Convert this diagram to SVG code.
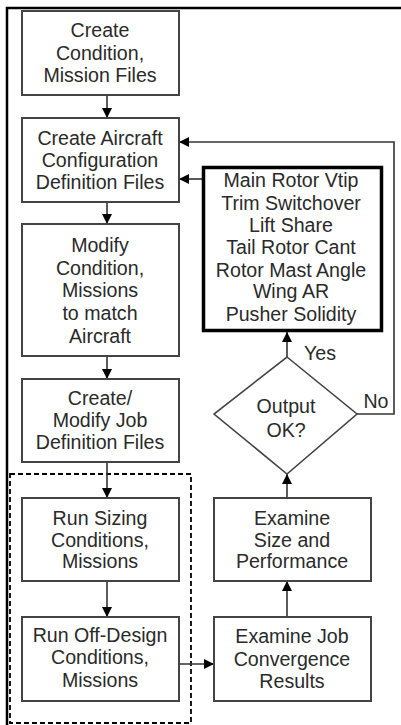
<svg xmlns="http://www.w3.org/2000/svg" width="401" height="725" viewBox="0 0 401 725">
<style>
text{font-family:"Liberation Sans",Arial,sans-serif;font-size:19.6px;fill:#2a2a2a;text-anchor:middle}
.box{fill:#fff;stroke:#444;stroke-width:2}
.ln{fill:none;stroke:#333;stroke-width:1.6}
</style>
<defs>
<marker id="ah" viewBox="0 0 10 10" refX="10" refY="5" markerWidth="10" markerHeight="10" markerUnits="userSpaceOnUse" orient="auto">
<path d="M0,0 L10,5 L0,10 z" fill="#000"/>
</marker>
</defs>
<rect x="0" y="0" width="401" height="725" fill="#fff"/>
<rect x="7" y="8" width="500" height="800" fill="none" stroke="#000" stroke-width="2.5"/>
<rect x="10" y="474" width="181" height="249" fill="none" stroke="#000" stroke-width="1.8" stroke-dasharray="5,3"/>
<g id="connectors">
<line class="ln" x1="107" y1="95" x2="107" y2="118" marker-end="url(#ah)"/>
<line class="ln" x1="107" y1="202" x2="107" y2="224" marker-end="url(#ah)"/>
<line class="ln" x1="107" y1="356" x2="107" y2="379" marker-end="url(#ah)"/>
<line class="ln" x1="107" y1="462" x2="107" y2="498" marker-end="url(#ah)"/>
<line class="ln" x1="107" y1="581" x2="107" y2="617" marker-end="url(#ah)"/>
<line class="ln" x1="179" y1="664" x2="214" y2="664" marker-end="url(#ah)"/>
<line class="ln" x1="287" y1="617" x2="287" y2="581" marker-end="url(#ah)"/>
<line class="ln" x1="287" y1="498" x2="287" y2="474" marker-end="url(#ah)"/>
<line class="ln" x1="287" y1="357" x2="287" y2="332" marker-end="url(#ah)"/>
<polyline class="ln" points="357,414 394,414 394,142 179,142" marker-end="url(#ah)"/>
<line class="ln" x1="202" y1="179" x2="179" y2="179" marker-end="url(#ah)"/>
</g>
<g id="n1"><rect class="box" x="22" y="11" width="157" height="84"/>
<text x="100" y="37">Create</text><text x="100" y="60">Condition,</text><text x="100" y="82">Mission Files</text></g>
<g id="n2"><rect class="box" x="22" y="118" width="157" height="84"/>
<text x="100" y="145">Create Aircraft</text><text x="100" y="167">Configuration</text><text x="100" y="189">Definition Files</text></g>
<g id="n3"><rect class="box" x="22" y="224" width="157" height="132"/>
<text x="100" y="252">Modify</text><text x="100" y="275">Condition,</text><text x="100" y="297">Missions</text><text x="100" y="320">to match</text><text x="100" y="343">Aircraft</text></g>
<g id="n4"><rect class="box" x="22" y="379" width="157" height="83"/>
<text x="100" y="405">Create/</text><text x="100" y="427">Modify Job</text><text x="100" y="449">Definition Files</text></g>
<g id="n5"><rect class="box" x="22" y="498" width="157" height="83"/>
<text x="100" y="525">Run Sizing</text><text x="100" y="547">Conditions,</text><text x="100" y="568">Missions</text></g>
<g id="n6"><rect class="box" x="22" y="617" width="157" height="84"/>
<text x="100" y="642">Run Off-Design</text><text x="100" y="664">Conditions,</text><text x="100" y="687">Missions</text></g>
<g id="n7"><rect class="box" x="214" y="617" width="157" height="84"/>
<text x="292" y="643">Examine Job</text><text x="292" y="666">Convergence</text><text x="292" y="688">Results</text></g>
<g id="n8"><rect class="box" x="214" y="498" width="157" height="83"/>
<text x="292" y="525">Examine</text><text x="292" y="547">Size and</text><text x="292" y="568">Performance</text></g>
<g id="n9"><polygon points="287,357 357,414 287,474 214,414" fill="#fff" stroke="#444" stroke-width="1.6"/>
<text x="286" y="413">Output</text><text x="286" y="437">OK?</text>
<text x="320" y="360">Yes</text><text x="376" y="408">No</text></g>
<g id="n10"><rect x="203.5" y="167.5" width="178" height="163" fill="#fff" stroke="#000" stroke-width="3.5"/>
<text x="291" y="187">Main Rotor Vtip</text><text x="291" y="210">Trim Switchover</text><text x="291" y="232">Lift Share</text><text x="291" y="254">Tail Rotor Cant</text><text x="291" y="277">Rotor Mast Angle</text><text x="291" y="298">Wing AR</text><text x="291" y="321">Pusher Solidity</text></g>
</svg>
